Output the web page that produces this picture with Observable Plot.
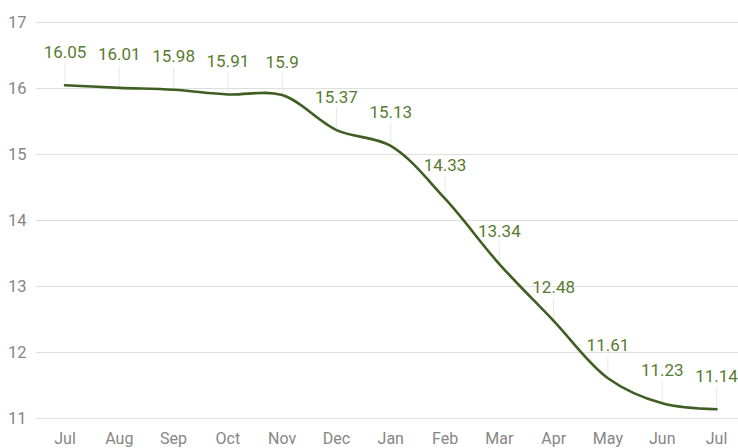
<!DOCTYPE html>
<html>
<head>
<meta charset="utf-8">
<script src="https://cdn.jsdelivr.net/npm/d3@7"></script>
<script src="https://cdn.jsdelivr.net/npm/@observablehq/plot@0.6"></script>
<style>
  html, body { margin: 0; padding: 0; background: #fff; }
  #chart svg { display: block; font-family: Roboto, sans-serif; }
</style>
</head>
<body>
<div id="chart"></div>
<script>
const months = ["Jul","Aug","Sep","Oct","Nov","Dec","Jan","Feb","Mar","Apr","May","Jun","Jul"];
const values = [16.05, 16.01, 15.98, 15.91, 15.9, 15.37, 15.13, 14.33, 13.34, 12.48, 11.61, 11.23, 11.14];
const yTicks = [11, 12, 13, 14, 15, 16, 17];

const data = months.map((m, i) => ({i, m, v: values[i]}));

const chart = Plot.plot({
  width: 738,
  height: 448,
  marginLeft: 36,
  marginRight: 0,
  marginTop: 22,
  marginBottom: 30,
  style: {fontFamily: "Roboto, sans-serif", background: "#fff"},
  x: {domain: [-0.525, 12.405], axis: null},
  y: {domain: [11, 17], axis: null},
  marks: [
    Plot.ruleY(yTicks, {stroke: "#dedede", strokeWidth: 1}),
    Plot.text(yTicks, {x: -0.525, y: d => d, text: d => String(d), textAnchor: "end", dx: -10, fill: "#868686", fontSize: 16.5}),
    Plot.text(data, {x: "i", y: 11, text: "m", dy: 20, fill: "#868686", fontSize: 16}),
    Plot.ruleX(data, {x: "i", y1: "v", y2: d => d.v + 0.33, stroke: "#e8e8e8", strokeWidth: 1}),
    Plot.line(data, {x: "i", y: "v", curve: "catmull-rom", stroke: "#3f5f22", strokeWidth: 2.6}),
    Plot.text(data, {x: "i", y: "v", text: d => String(d.v), dy: -33, fill: "#577b31", fontSize: 17})
  ]
});
document.getElementById("chart").append(chart);
</script>
</body>
</html>
